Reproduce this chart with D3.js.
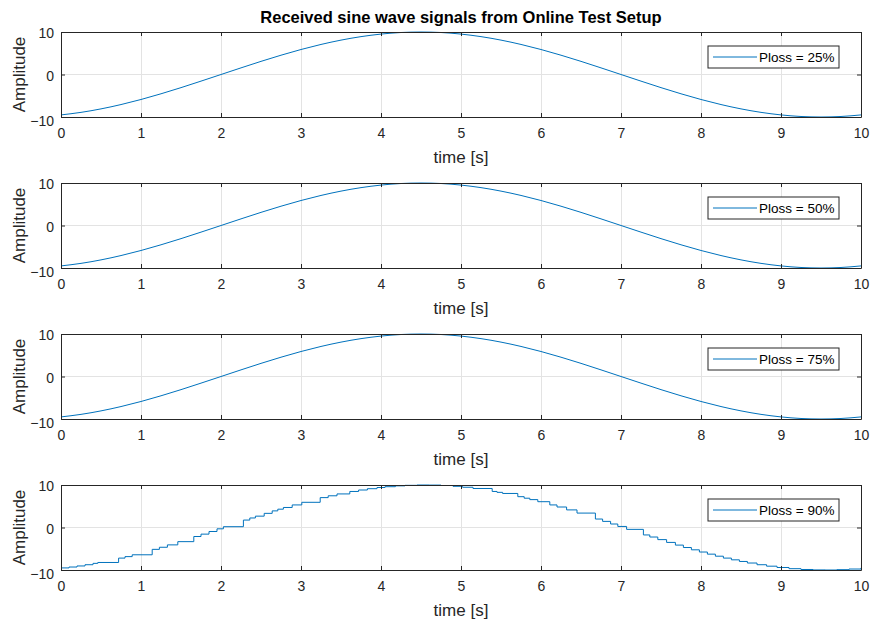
<!DOCTYPE html>
<html>
<head>
<meta charset="utf-8">
<script src="https://cdn.jsdelivr.net/npm/d3@7"></script>
<style>
  html, body { margin: 0; padding: 0; background: #ffffff; }
  svg { display: block; font-family: "Liberation Sans", Arial, Helvetica, sans-serif; }
</style>
</head>
<body>
<svg id="chart" width="870" height="623"></svg>
<script>
// ---------------- DATA ----------------
const titleText = "Received sine wave signals from Online Test Setup";
const xLabel = "time [s]";
const yLabel = "Amplitude";
const xTicks = [0, 1, 2, 3, 4, 5, 6, 7, 8, 9, 10];
const yTicks = [-10, 0, 10];
const legendLabels = ["Ploss = 25%", "Ploss = 50%", "Ploss = 75%", "Ploss = 90%"];

// smooth received signals (read every 0.25 s)
const timeSmooth = [0, 0.25, 0.5, 0.75, 1, 1.25, 1.5, 1.75, 2, 2.25, 2.5, 2.75, 3, 3.25, 3.5, 3.75, 4, 4.25, 4.5, 4.75, 5,
                    5.25, 5.5, 5.75, 6, 6.25, 6.5, 6.75, 7, 7.25, 7.5, 7.75, 8, 8.25, 8.5, 8.75, 9, 9.25, 9.5, 9.75, 10];
const sigP25 = [-9.51, -8.91, -8.09, -7.07, -5.88, -4.54, -3.09, -1.56, 0, 1.56, 3.09, 4.54, 5.88, 7.07, 8.09, 8.91, 9.51,
                9.88, 10, 9.88, 9.51, 8.91, 8.09, 7.07, 5.88, 4.54, 3.09, 1.56, 0, -1.56, -3.09, -4.54, -5.88, -7.07, -8.09,
                -8.91, -9.51, -9.88, -10, -9.88, -9.51];
const sigP50 = [-9.51, -8.91, -8.09, -7.07, -5.88, -4.54, -3.09, -1.56, 0, 1.56, 3.09, 4.54, 5.88, 7.07, 8.09, 8.91, 9.51,
                9.88, 10, 9.88, 9.51, 8.91, 8.09, 7.07, 5.88, 4.54, 3.09, 1.56, 0, -1.56, -3.09, -4.54, -5.88, -7.07, -8.09,
                -8.91, -9.51, -9.88, -10, -9.88, -9.51];
const sigP75 = [-9.51, -8.91, -8.09, -7.07, -5.88, -4.54, -3.09, -1.56, 0, 1.56, 3.09, 4.54, 5.88, 7.07, 8.09, 8.91, 9.51,
                9.88, 10, 9.88, 9.51, 8.91, 8.09, 7.07, 5.88, 4.54, 3.09, 1.56, 0, -1.56, -3.09, -4.54, -5.88, -7.07, -8.09,
                -8.91, -9.51, -9.88, -10, -9.88, -9.51];

// 90 % loss: held samples (value held until the next received sample)
const timeP90 = [0, 0.1, 0.2, 0.3, 0.4, 0.46, 0.72, 0.8, 0.89, 1.14, 1.23, 1.33, 1.46, 1.66, 1.75, 1.85, 1.95, 2.03,
                 2.28, 2.36, 2.43, 2.54, 2.64, 2.71, 2.78, 2.89, 3.01, 3.24, 3.34, 3.45, 3.61, 3.72, 3.83, 3.95, 4.05,
                 4.18, 4.3, 4.45, 4.6, 4.75, 4.9, 5.02, 5.15, 5.39, 5.45, 5.52, 5.71, 5.79, 5.86, 5.96, 6.11, 6.2,
                 6.32, 6.45, 6.68, 6.77, 6.87, 6.96, 7.07, 7.28, 7.36, 7.46, 7.57, 7.68, 7.78, 7.88, 7.98, 8.08, 8.18,
                 8.28, 8.38, 8.48, 8.58, 8.7, 8.82, 8.95, 9.1, 9.25, 9.4, 9.55, 9.7, 9.85, 10];
const sigP90 = [-9.51, -9.30, -9.05, -8.76, -8.44, -8.23, -7.20, -6.85, -6.42, -5.14, -4.65, -4.09, -3.33, -2.12, -1.56,
                -0.94, -0.31, 0.19, 1.75, 2.24, 2.67, 3.33, 3.91, 4.31, 4.71, 5.31, 5.93, 7.03, 7.46, 7.90, 8.48, 8.82,
                9.13, 9.41, 9.60, 9.80, 9.92, 10.0, 9.98, 9.88, 9.69, 9.47, 9.18, 8.48, 8.27, 8.01, 7.25, 6.89, 6.56,
                6.07, 5.31, 4.82, 4.14, 3.39, 1.99, 1.44, 0.82, 0.25, -0.44, -1.75, -2.24, -2.85, -3.51, -4.14, -4.71,
                -5.25, -5.77, -6.27, -6.75, -7.20, -7.61, -7.99, -8.36, -8.76, -9.10, -9.41, -9.69, -9.88, -9.98,
                -10.0, -9.92, -9.77, -9.51];

// ---------------- LAYOUT ----------------
const panels = [
  { t: timeSmooth, y: sigP25, label: legendLabels[0], step: false },
  { t: timeSmooth, y: sigP50, label: legendLabels[1], step: false },
  { t: timeSmooth, y: sigP75, label: legendLabels[2], step: false },
  { t: timeP90,    y: sigP90, label: legendLabels[3], step: true }
];
const plotLeft = 61, plotWidth = 800, plotHeight = 85;
const panelTops = [32, 183, 334, 485];
const lineColor = "#0072BD";
const axisColor = "#262626";
const gridColor = "#e3e3e3";

const svg = d3.select("#chart");

svg.append("text")
  .attr("x", plotLeft + plotWidth / 2)
  .attr("y", 23)
  .attr("text-anchor", "middle")
  .attr("font-weight", "bold")
  .attr("font-size", 16.5)
  .attr("fill", "#000")
  .text(titleText);

const x = d3.scaleLinear().domain([0, 10]).range([0, plotWidth]);

panels.forEach((p, i) => {
  const g = svg.append("g").attr("transform", `translate(${plotLeft},${panelTops[i]})`);
  const y = d3.scaleLinear().domain([-10, 10]).range([plotHeight, 0]);

  // grid
  g.append("g").selectAll("line").data(xTicks).join("line")
    .attr("x1", d => x(d)).attr("x2", d => x(d))
    .attr("y1", 0).attr("y2", plotHeight)
    .attr("stroke", gridColor).attr("stroke-width", 1).attr("shape-rendering", "crispEdges");
  g.append("g").selectAll("line").data(yTicks).join("line")
    .attr("y1", d => y(d)).attr("y2", d => y(d))
    .attr("x1", 0).attr("x2", plotWidth)
    .attr("stroke", gridColor).attr("stroke-width", 1).attr("shape-rendering", "crispEdges");

  // signal
  const line = d3.line()
    .x((d, k) => x(p.t[k]))
    .y(d => y(d))
    .curve(p.step ? d3.curveStepAfter : d3.curveMonotoneX);
  g.append("path")
    .datum(p.y)
    .attr("d", line)
    .attr("fill", "none")
    .attr("stroke", lineColor)
    .attr("stroke-width", 1);

  // axes (ticks inward, full box)
  const xb = d3.axisBottom(x).tickValues(xTicks).tickSizeInner(-4).tickSizeOuter(0).tickPadding(11).tickFormat(d3.format("d"));
  const xt = d3.axisTop(x).tickValues(xTicks).tickSizeInner(-4).tickSizeOuter(0).tickFormat("");
  const yl = d3.axisLeft(y).tickValues(yTicks).tickSizeInner(-4).tickSizeOuter(0).tickPadding(7).tickFormat(d3.format("d"));
  const yr = d3.axisRight(y).tickValues(yTicks).tickSizeInner(-4).tickSizeOuter(0).tickFormat("");

  const styleAxis = sel => {
    sel.select(".domain").attr("stroke", axisColor).attr("stroke-width", 1);
    sel.selectAll(".tick line").attr("stroke", axisColor).attr("stroke-width", 1);
    sel.selectAll(".tick text").attr("fill", "#262626").attr("font-size", 14).attr("font-family", "Liberation Sans, Arial, sans-serif");
  };
  g.append("g").attr("transform", `translate(0,${plotHeight})`).call(xb).call(styleAxis);
  g.append("g").call(xt).call(styleAxis);
  g.append("g").call(yl).call(styleAxis)
    .selectAll(".tick text").attr("dy", d => d === -10 ? "0.62em" : "0.4em");
  g.append("g").attr("transform", `translate(${plotWidth},0)`).call(yr).call(styleAxis);

  // axis labels
  g.append("text")
    .attr("x", plotWidth / 2)
    .attr("y", plotHeight + 46)
    .attr("text-anchor", "middle")
    .attr("font-size", 17)
    .attr("fill", "#262626")
    .text(xLabel);
  g.append("text")
    .attr("transform", `translate(${-36},${plotHeight / 2}) rotate(-90)`)
    .attr("text-anchor", "middle")
    .attr("font-size", 17)
    .attr("fill", "#262626")
    .text(yLabel);

  // legend
  const lg = g.append("g").attr("transform", `translate(${647},${14})`);
  lg.append("rect")
    .attr("x", 0).attr("y", 0).attr("width", 131).attr("height", 22)
    .attr("fill", "#fff").attr("stroke", axisColor).attr("stroke-width", 1);
  lg.append("line")
    .attr("x1", 5).attr("x2", 49).attr("y1", 11).attr("y2", 11)
    .attr("stroke", lineColor).attr("stroke-width", 1);
  lg.append("text")
    .attr("x", 51).attr("y", 11).attr("dy", "0.35em")
    .attr("font-size", 13.5)
    .attr("fill", "#000")
    .text(p.label);
});
</script>
</body>
</html>
